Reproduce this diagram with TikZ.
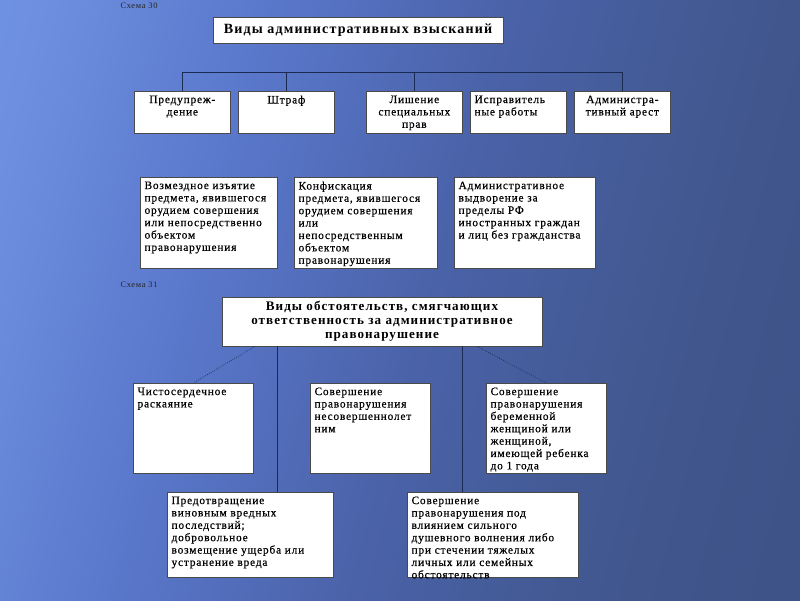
\documentclass[tikz,border=0pt]{standalone}
\usepackage{fontspec}
\setmainfont{Liberation Serif}[LetterSpace=8]
\newfontfamily\boxfont{Liberation Serif}[LetterSpace=7, FakeBold=0.5]
\usetikzlibrary{calc}

\definecolor{SlideLight}{HTML}{7597E6}
\definecolor{SlideSoft}{HTML}{6E8FE0}
\definecolor{SlideMid}{HTML}{5A78CC}
\definecolor{SlideDeep}{HTML}{4A62A8}
\definecolor{SlideDusk}{HTML}{40568C}
\definecolor{SlideDark}{HTML}{3A4E80}
\definecolor{LinkBlue}{HTML}{1B2A52}
\definecolor{BoxEdge}{HTML}{4A4A4A}
\pgfdeclarehorizontalshading{slide}{100bp}{color(0bp)=(SlideLight); color(12bp)=(SlideLight); color(22bp)=(SlideSoft); color(36bp)=(SlideMid); color(52bp)=(SlideDeep); color(70bp)=(SlideDusk); color(100bp)=(SlideDark)}

% fixed-size cell text, aligned at the top
\newcommand{\cellL}[3]{\parbox[c][\dimexpr#2-6pt][t]{\dimexpr#1-6pt}{\raggedright #3}}
\newcommand{\cellC}[3]{\parbox[c][\dimexpr#2-6pt][t]{\dimexpr#1-6pt}{\centering #3}}

\begin{document}
\begin{tikzpicture}[x=0.025cm, y=-0.025cm,
  schemetag/.style={font=\fontsize{6}{6.5}\selectfont, text=black!85, inner sep=0pt},
  head/.style={draw=BoxEdge, fill=white, line width=0.5pt, align=center, inner sep=2pt,
    font=\fontsize{10}{11.5}\selectfont\bfseries},
  box/.style={draw=BoxEdge, fill=white, line width=0.5pt, anchor=north west, inner sep=3pt,
    font=\boxfont\fontsize{8.1}{8.8}\selectfont},
  link/.style={draw=LinkBlue, line width=0.6pt},
  hint/.style={draw=LinkBlue, line width=0.5pt, densely dotted}]
  \useasboundingbox (0,0) rectangle (800,600);
  \shade[shading=slide, shading angle=-15] (0,0) rectangle (800,600);

  % Scheme 30: kinds of penalties
  \node[schemetag] (tag30) at (139,6) {Схема 30};
  \node[head, minimum width=7.25cm, minimum height=0.65cm] (penalty) at (358,30)
    {Виды административных взысканий};
  \node[box] (warn) at (134,91) {\cellC{2.4cm}{1.05cm}{Предупреж-\\дение}};
  \node[box] (fine) at (238,91) {\cellC{2.4cm}{1.05cm}{Штраф}};
  \node[box] (rights) at (366,91) {\cellC{2.4cm}{1.05cm}{Лишение\\специальных\\прав}};
  \node[box] (works) at (470,91) {\cellL{2.4cm}{1.05cm}{Исправитель\\ные работы}};
  \node[box] (arrest) at (574,91) {\cellC{2.4cm}{1.05cm}{Администра-\\тивный арест}};
  \coordinate (bus) at (0,72);
  \draw[link] (warn.north) -- (warn.north |- bus) -- (arrest.north |- bus) -- (arrest.north);
  \draw[link] (fine.north) -- (fine.north |- bus);
  \draw[link] (rights.north) -- (rights.north |- bus);

  \node[box] (seize) at (140,177) {\cellL{3.425cm}{2.275cm}{Возмездное изъятие\\предмета, явившегося\\орудием совершения\\или непосредственно\\объектом\\правонарушения}};
  \node[box] (confisc) at (294,177) {\cellL{3.575cm}{2.275cm}{Конфискация\\предмета, явившегося\\орудием совершения\\или\\непосредственным\\объектом\\правонарушения}};
  \node[box] (expel) at (454,177) {\cellL{3.525cm}{2.275cm}{Административное\\выдворение за\\пределы РФ\\иностранных граждан\\и лиц без гражданства}};

  % Scheme 31: mitigating circumstances
  \node[schemetag] (tag31) at (139,285) {Схема 31};
  \node[head, font=\fontsize{9.3}{10}\selectfont\bfseries, minimum width=8cm, minimum height=1.225cm]
    (mitig) at (382,321.5) {Виды обстоятельств, смягчающих\\ответственность за административное\\правонарушение};
  \node[box] (repent) at (133,383) {\cellL{3cm}{2.25cm}{Чистосердечное\\раскаяние}};
  \node[box] (minor) at (310,383) {\cellL{3cm}{2.25cm}{Совершение\\правонарушения\\несовершеннолет\\ним}};
  \node[box] (pregnant) at (486,383) {\cellL{3cm}{2.25cm}{Совершение\\правонарушения\\беременной\\женщиной или\\женщиной,\\имеющей ребенка\\до 1 года}};
  \node[box] (prevent) at (167,492) {\cellL{4.15cm}{2.125cm}{Предотвращение\\виновным вредных\\последствий;\\добровольное\\возмещение ущерба или\\устранение вреда}};
  \node[box] (passion) at (407,492) {\cellL{4.275cm}{2.125cm}{Совершение\\правонарушения под\\влиянием сильного\\душевного волнения либо\\при стечении тяжелых\\личных или семейных\\обстоятельств}};

  \coordinate (lv) at (277,0);
  \coordinate (rv) at (462,0);
  \coordinate (ld) at (255,0);
  \coordinate (rd) at (477,0);
  \draw[link] (mitig.south -| lv) -- (prevent.north -| lv);
  \draw[link] (mitig.south -| rv) -- (passion.north -| rv);
  \draw[hint] (mitig.south -| ld) -- (repent.north);
  \draw[hint] (mitig.south -| rd) -- (pregnant.north);
\end{tikzpicture}
\end{document}
